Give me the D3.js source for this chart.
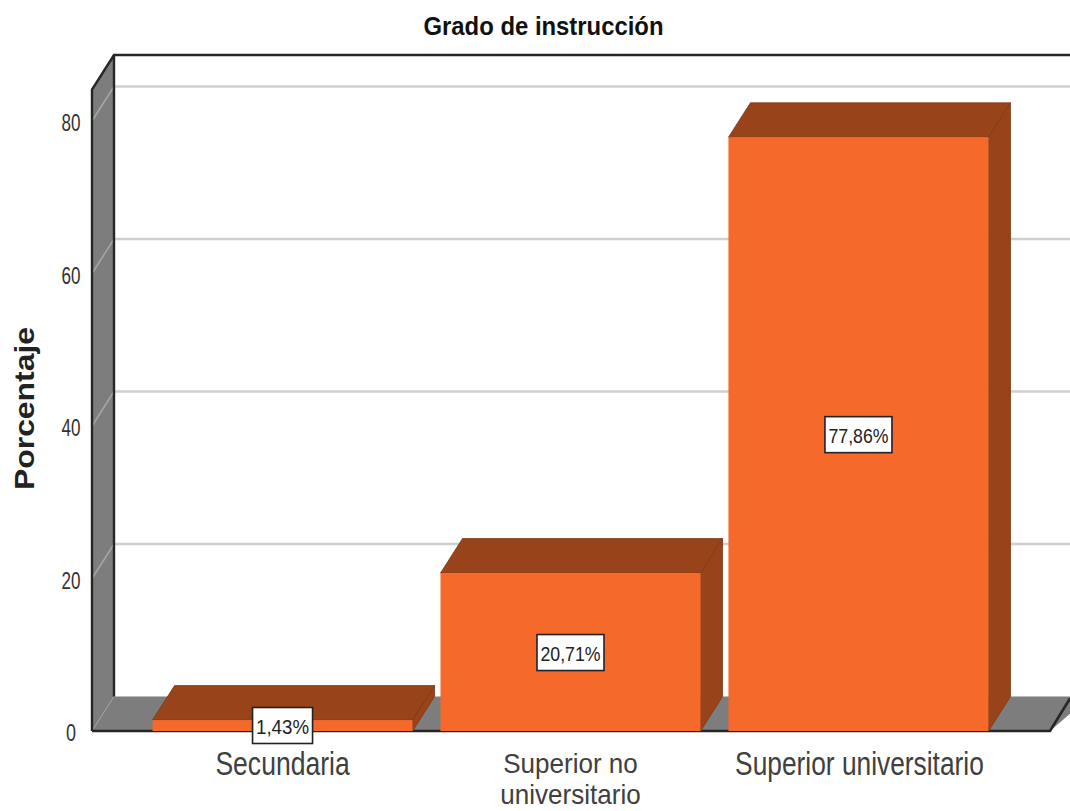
<!DOCTYPE html>
<html><head><meta charset="utf-8">
<script src="https://cdn.jsdelivr.net/npm/d3@7/dist/d3.min.js"></script>
<style>html,body{margin:0;padding:0;background:#fff}svg{display:block}text{font-family:"Liberation Sans",Arial,sans-serif}</style>
</head><body><svg id="c" width="1070" height="811"></svg>
<script>
const categories = ["Secundaria", "Superior no universitario", "Superior universitario"];
const values = [1.43, 20.71, 77.86];
const valueLabels = ["1,43%", "20,71%", "77,86%"];
const yTicks = [0, 20, 40, 60, 80];
const title = "Grado de instrucción";
const yTitle = "Porcentaje";

const svg = d3.select("#c");
const y = d3.scaleLinear().domain([0, 80]).range([731, 121]);
const x = d3.scaleBand().domain(categories).range([139, 1002]).paddingInner(0.097).paddingOuter(0.047);
const dx = 22, dy = -34.5;
const yTop = 89.5, xFloorEnd = 1050, xRight = 1070;
const poly = (pts, fill, stroke, sw) => svg.append("polygon")
  .attr("points", pts.map(p => p.join(",")).join(" "))
  .attr("fill", fill).attr("stroke", stroke || "none").attr("stroke-width", sw || 0).attr("stroke-linejoin", "round");

// side wall and floor
poly([[92, yTop], [92 + dx, yTop + dy], [92 + dx, y(0) + dy], [92, y(0)]], "#7d7d7d");
poly([[92, y(0)], [92 + dx, y(0) + dy], [xRight + 20, y(0) + dy], [xFloorEnd, y(0)]], "#7d7d7d");

// gridlines on the back and wall
yTicks.slice(1).forEach(t => {
  svg.append("line").attr("x1", 92 + dx).attr("x2", xRight).attr("y1", y(t) + dy).attr("y2", y(t) + dy)
    .attr("stroke", "#cfcfcf").attr("stroke-width", 2.5);
  svg.append("line").attr("x1", 92).attr("x2", 92 + dx).attr("y1", y(t)).attr("y2", y(t) + dy)
    .attr("stroke", "#a6a6a6").attr("stroke-width", 1.5);
});
svg.append("line").attr("x1", 92).attr("x2", 92 + dx).attr("y1", y(0)).attr("y2", y(0) + dy)
  .attr("stroke", "#a0a0a0").attr("stroke-width", 1);

// frame
const frame = "#262626";
svg.append("path").attr("fill", "none").attr("stroke", frame).attr("stroke-width", 2.4)
  .attr("d", `M92,${y(0)} L92,${yTop} L${92 + dx},${yTop + dy} L${xRight},${yTop + dy}`);
svg.append("path").attr("fill", "none").attr("stroke", frame).attr("stroke-width", 2.4)
  .attr("d", `M${92 + dx},${yTop + dy} L${92 + dx},${y(0) + dy}`);
svg.append("path").attr("fill", "none").attr("stroke", frame).attr("stroke-width", 2.6)
  .attr("d", `M92,${y(0)} L${xFloorEnd},${y(0)} L${xRight},${y(0) + dy + 2}`);

// ticks
svg.selectAll("text.tick").data(yTicks).join("text").attr("class", "tick")
  .attr("x", 71).attr("y", d => y(d) + 10).attr("text-anchor", "middle")
  .attr("font-size", 23).attr("fill", "#333")
  .attr("textLength", d => d === 0 ? 10 : 19).attr("lengthAdjust", "spacingAndGlyphs")
  .text(d => d);

// bars
categories.forEach((c, i) => {
  const x0 = x(c), x1 = x0 + x.bandwidth(), yt = y(values[i]), yb = y(0);
  poly([[x0, yt], [x0 + dx, yt + dy], [x1 + dx, yt + dy], [x1, yt]], "#98431a", "#7e3713", 0.8);
  poly([[x1, yt], [x1 + dx, yt + dy], [x1 + dx, yb + dy], [x1, yb]], "#98431a", "#7e3713", 0.8);
  svg.append("rect").attr("x", x0).attr("y", yt).attr("width", x.bandwidth()).attr("height", yb - yt).attr("fill", "#f5692a");
});

// value labels
const boxW = [60, 67, 67];
categories.forEach((c, i) => {
  const cx = x(c) + x.bandwidth() / 2;
  const cy = i === 0 ? y(0) - 5.5 : y(values[i] / 2) + 0.5;
  svg.append("rect").attr("x", cx - boxW[i] / 2).attr("y", cy - 18).attr("width", boxW[i]).attr("height", 36)
    .attr("fill", "#fff").attr("stroke", "#222").attr("stroke-width", 1.6);
  svg.append("text").attr("x", cx).attr("y", cy + 8).attr("text-anchor", "middle")
    .attr("font-size", 21).attr("fill", "#222")
    .attr("textLength", boxW[i] - 7).attr("lengthAdjust", "spacingAndGlyphs").text(valueLabels[i]);
});

// category labels: one text element each, wrapped with tspans and narrowed as in the reference
const catLines = [["Secundaria"], ["Superior no", "universitario"], ["Superior universitario"]];
const catSize = [33, 28, 33];
const catScale = [0.805, 0.93, 0.798];
const catBase = [775, 773, 775];
categories.forEach((c, i) => {
  const cx = x(c) + x.bandwidth() / 2 + [0, 0, 1][i];
  const t = svg.append("text")
    .attr("transform", `translate(${cx},${catBase[i]}) scale(${catScale[i]},1)`)
    .attr("text-anchor", "middle").attr("font-size", catSize[i]).attr("fill", "#404040");
  catLines[i].forEach((line, k) => {
    t.append("tspan").attr("x", 0).attr("dy", k === 0 ? 0 : 31.5).text(line);
  });
});

// titles
svg.append("text").attr("x", 543.5).attr("y", 35).attr("text-anchor", "middle")
  .attr("font-size", 26).attr("font-weight", "bold").attr("fill", "#111")
  .attr("textLength", 240).attr("lengthAdjust", "spacingAndGlyphs").text(title);
svg.append("text").attr("transform", "translate(34,408.5) rotate(-90)").attr("text-anchor", "middle")
  .attr("font-size", 27).attr("font-weight", "bold").attr("fill", "#222")
  .attr("textLength", 163).attr("lengthAdjust", "spacingAndGlyphs").text(yTitle);
</script></body></html>
